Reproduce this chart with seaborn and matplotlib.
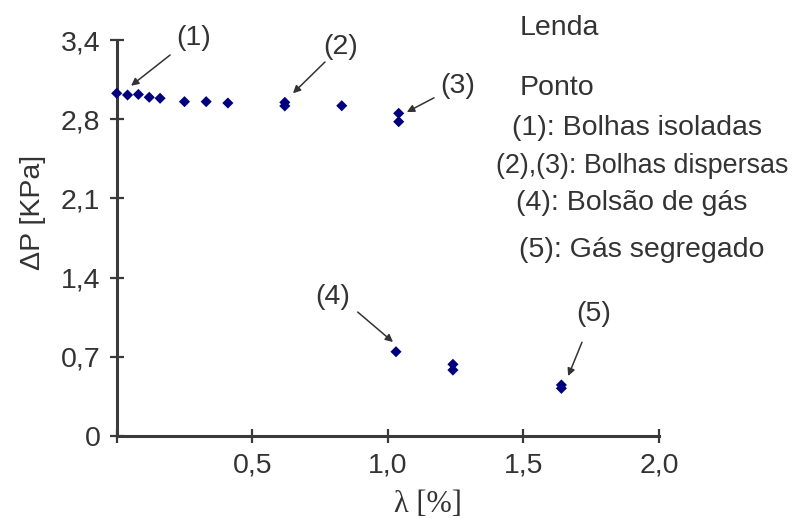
import matplotlib
matplotlib.use("Agg")
import matplotlib.pyplot as plt
from matplotlib.font_manager import FontProperties
import seaborn as sns
import pandas as pd

# ---- data ----
lam = [0.0, 0.04, 0.08, 0.12, 0.16, 0.25, 0.33, 0.41, 0.62, 0.62, 0.83,
       1.04, 1.04, 1.03, 1.24, 1.24, 1.64, 1.64]
dp = [3.03, 3.015, 3.02, 2.995, 2.986, 2.956, 2.956, 2.944, 2.95, 2.918, 2.92,
      2.853, 2.779, 0.743, 0.632, 0.581, 0.449, 0.419]

xticks = [0, 0.5, 1.0, 1.5, 2.0]
xticklabels = ["", "0,5", "1,0", "1,5", "2,0"]
yticks = [0, 0.7, 1.4, 2.1, 2.8, 3.5]
yticklabels = ["0", "0,7", "1,4", "2,1", "2,8", "3,4"]

point_labels = ["(1)", "(2)", "(3)", "(4)", "(5)"]
label_pos = [(0.282, 3.517), (0.827, 3.44), (1.259, 3.094), (0.798, 1.228), (1.76, 1.077)]
arrow_start = [(0.197, 3.369), (0.768, 3.307), (1.17, 2.99), (0.889, 1.094), (1.716, 0.827)]
arrow_head = [(0.053, 3.097), (0.65, 3.03), (1.07, 2.864), (1.019, 0.829), (1.665, 0.528)]

legend_lines = ["Lenda", "Ponto", "(1): Bolhas isoladas", "(2),(3): Bolhas dispersas",
                "(4): Bolsão de gás", "(5): Gás segregado"]
legend_px = [(520, 35), (520, 95), (512, 135), (496, 173), (516, 210), (519, 257)]
legend_sizes = [20.5, 20.5, 20.5, 19.4, 20.5, 20.5]

df = pd.DataFrame({"lam": lam, "dp": dp})

sns.set_style("ticks")
plt.rcParams["font.family"] = ["Liberation Sans", "DejaVu Sans"]
plt.rcParams["font.serif"] = ["Liberation Serif", "DejaVu Serif"]

W, H = 793, 519
fig = plt.figure(figsize=(W / 100, H / 100), dpi=100)
ax = fig.add_axes([116.7 / W, 1 - 435.7 / H, (659 - 116.7) / W, (435.7 - 40.2) / H])

txt = "#333333"
sns.scatterplot(data=df, x="lam", y="dp", marker="D", color="#00007f",
                s=32, edgecolor="none", ax=ax, clip_on=False, zorder=5)

ax.set_xlim(0, 2.0)
ax.set_ylim(0, 3.5)
ax.set_xticks(xticks)
ax.set_xticklabels(xticklabels)
ax.set_yticks(yticks)
ax.set_yticklabels(yticklabels)

for s in ["top", "right"]:
    ax.spines[s].set_visible(False)
for s in ["left", "bottom"]:
    ax.spines[s].set_linewidth(2.2)
    ax.spines[s].set_color("#3a3a3a")

ax.tick_params(axis="both", direction="inout", length=10.5, width=1.6,
               color="#3a3a3a", labelsize=20.5, labelcolor=txt, pad=6.5)

ax.set_ylabel("ΔP [KPa]", fontsize=20.5, color=txt)
ax.yaxis.set_label_coords((33 - 116.7) / (659 - 116.7), (435.7 - 212) / (435.7 - 40.2))
ax.yaxis.label.set_verticalalignment("center")

# x label in a serif face, as in the reference
ax.set_xlabel("")
serif_fp = FontProperties(family="serif", size=22)
fig.text(428 / W, 1 - 505 / H, "λ [%]", fontproperties=serif_fp, color=txt,
         ha="center", va="center")

for lab, lp, a0, a1 in zip(point_labels, label_pos, arrow_start, arrow_head):
    ax.text(lp[0], lp[1], lab, fontsize=20.5, color=txt, ha="center", va="center",
            clip_on=False)
    ax.annotate("", xy=a1, xytext=a0, annotation_clip=False,
                arrowprops=dict(arrowstyle="-|>", color="#333333", lw=1.1,
                                mutation_scale=11, shrinkA=0, shrinkB=0))

for line, (px, py), fs in zip(legend_lines, legend_px, legend_sizes):
    fig.text(px / W, 1 - py / H, line, fontsize=fs, color=txt,
             ha="left", va="baseline")

fig.savefig("out.png", dpi=100)
